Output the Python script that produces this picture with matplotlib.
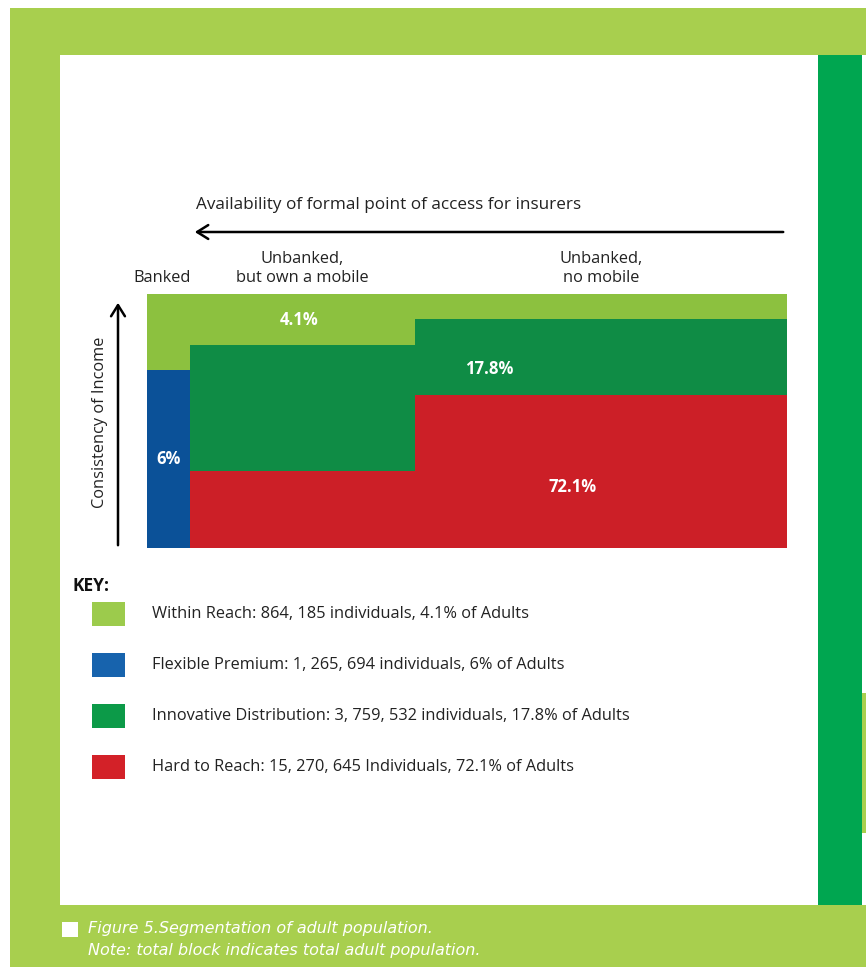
import matplotlib

matplotlib.use("Agg")
import matplotlib.pyplot as plt
from matplotlib.patches import Rectangle, FancyArrowPatch

W, H = 866, 967

# segment data: columns of the block (share of block width) and stacked heights
columns = ["Banked", "Unbanked,\nbut own a mobile", "Unbanked,\nno mobile"]
col_widths = [6.7, 35.2, 58.1]
hard_to_reach = [0.0, 30.3, 60.2]
flexible_premium = [70.1, 0.0, 0.0]
innovative = [0.0, 49.6, 29.9]
within_reach = [29.9, 20.1, 9.9]

segment_labels = ["4.1%", "6%", "17.8%", "72.1%"]
key_labels = [
    "Within Reach: 864, 185 individuals, 4.1% of Adults",
    "Flexible Premium: 1, 265, 694 individuals, 6% of Adults",
    "Innovative Distribution: 3, 759, 532 individuals, 17.8% of Adults",
    "Hard to Reach: 15, 270, 645 Individuals, 72.1% of Adults",
]

C_LIGHT = "#8cc13f"
C_BLUE = "#0b5198"
C_GREEN = "#0f8c45"
C_RED = "#cc1f27"
KEY_COLORS = ["#9ccb4c", "#1763ad", "#0c9a48", "#d32128"]

FRAME_LIGHT = "#a8cf4e"
FRAME_DARK = "#00a650"

FONT = ["Open Sans", "DejaVu Sans"]

fig = plt.figure(figsize=(W / 100, H / 100), dpi=100)
bg = fig.add_axes([0, 0, 1, 1])
bg.set_xlim(0, W)
bg.set_ylim(H, 0)
bg.axis("off")

# page frame
bg.add_patch(Rectangle((10, 8), W - 10, H - 8, color=FRAME_LIGHT, lw=0))
bg.add_patch(Rectangle((60, 55), 758, 850, color="white", lw=0))
bg.add_patch(Rectangle((818, 55), 44, 850, color=FRAME_DARK, lw=0))
bg.add_patch(Rectangle((862, 55), 4, 638, color="white", lw=0))
bg.add_patch(Rectangle((862, 833), 4, 72, color="white", lw=0))

# axis arrows and headings
bg.add_patch(FancyArrowPatch((786, 232), (192, 232), arrowstyle="->,head_length=8,head_width=5",
                             lw=1.8, color="black", mutation_scale=1))
bg.text(196, 205, "Availability of formal point of access for insurers", fontsize=12.3,
        family=FONT, ha="left", va="center", color="#222222")
bg.add_patch(FancyArrowPatch((118, 548), (118, 300), arrowstyle="->,head_length=8,head_width=5",
                             lw=1.8, color="black", mutation_scale=1))
bg.text(100, 422, "Consistency of Income", fontsize=11.8, family=FONT, rotation=90,
        ha="center", va="center", color="#222222")

# block
ax = fig.add_axes([147 / W, (H - 548) / H, 640 / W, 254 / H])
lefts = [sum(col_widths[:i]) for i in range(len(col_widths))]
bottom = [0.0] * 3
for vals, color in [(hard_to_reach, C_RED), (flexible_premium, C_BLUE),
                    (innovative, C_GREEN), (within_reach, C_LIGHT)]:
    ax.bar(lefts, vals, width=col_widths, bottom=bottom, align="edge", color=color, lw=0)
    bottom = [b + v for b, v in zip(bottom, vals)]
ax.set_xlim(0, 100)
ax.set_ylim(0, 100)
ax.axis("off")

# column headings above the block
for left, width, name in zip(lefts, col_widths, columns):
    cx = left + width / 2
    if "\n" not in name:
        cx = left + width / 2 - 1.0
    ax.text(cx, 103, name, transform=ax.transData, ha="center", va="bottom",
            fontsize=11.8, family=FONT, color="#222222", linespacing=1.25, clip_on=False)

# segment labels
lbl_pos = [(lefts[1] + 17, 89.8), (lefts[0] + 3.3, 35), (53.5, 70.4), (66.5, 24)]
for (x, y), txt in zip(lbl_pos, segment_labels):
    ax.text(x, y, txt, ha="center", va="center", color="white", fontsize=12,
            fontweight="bold", family=FONT)

# key
bg.text(73, 586, "KEY:", fontsize=12.5, fontweight="bold", family=FONT, ha="left",
        va="center", color="#111111")
for i, (lab, col) in enumerate(zip(key_labels, KEY_COLORS)):
    y = 614 + i * 51
    bg.add_patch(Rectangle((92, y - 12), 33, 24, color=col, lw=0))
    bg.text(152, y, lab, fontsize=11.8, family=FONT, ha="left", va="center", color="#222222")

# caption
bg.add_patch(Rectangle((62, 922), 16, 15, color="white", lw=0))
cap_font = ["Liberation Sans Narrow", "DejaVu Sans"]
bg.text(88, 929, "Figure 5.Segmentation of adult population.", fontsize=11.5, style="italic",
        family=cap_font, color="white", ha="left", va="center")
bg.text(88, 951, "Note: total block indicates total adult population.", fontsize=11.5,
        style="italic", family=cap_font, color="white", ha="left", va="center")

fig.savefig("out.png", dpi=100)
